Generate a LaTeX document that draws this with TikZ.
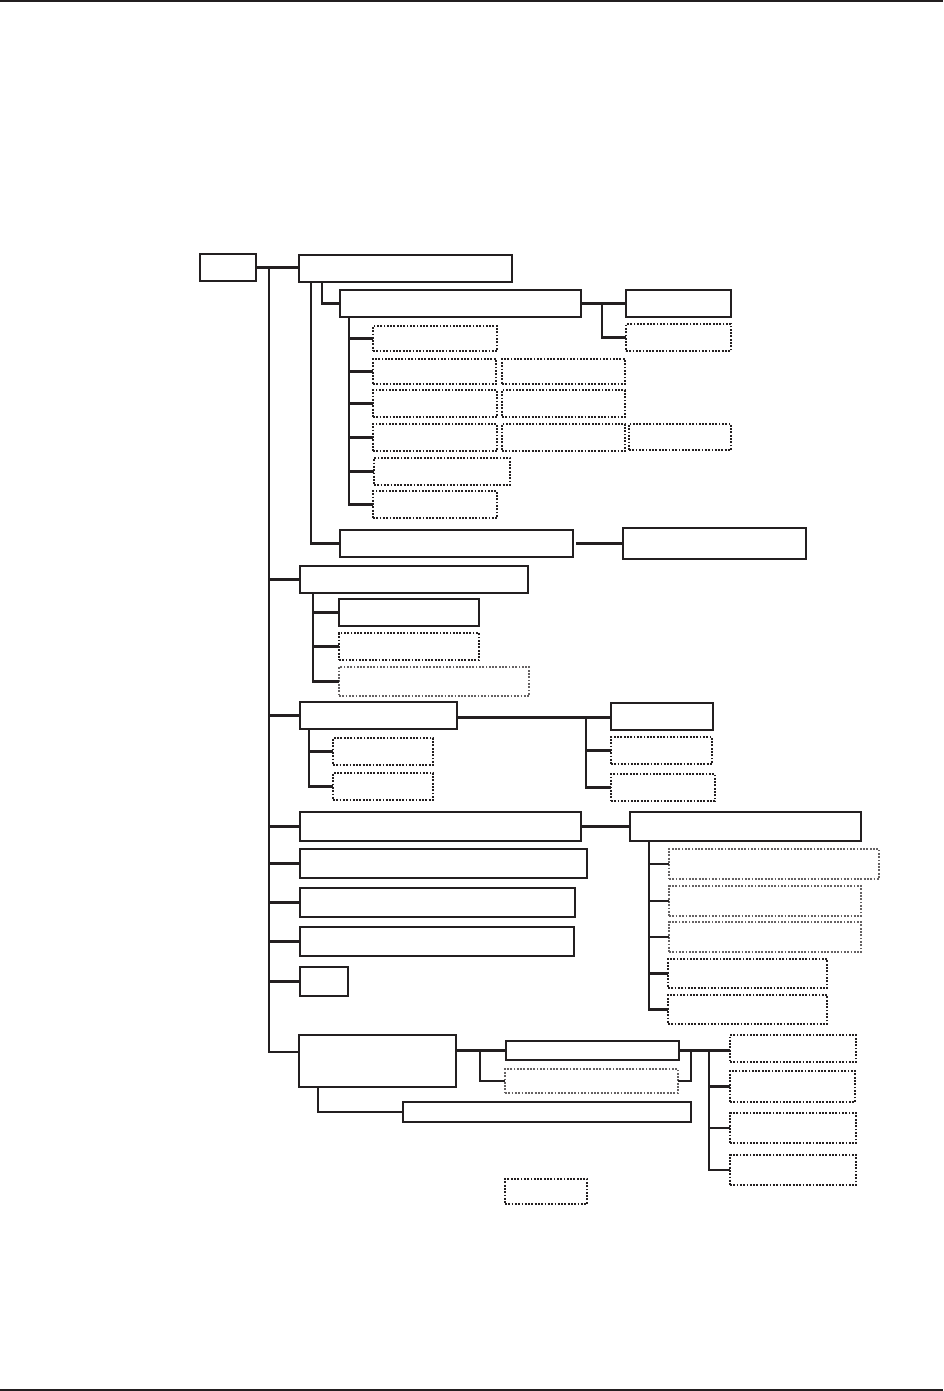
\documentclass[tikz,border=0pt]{standalone}
\usepackage{tikz}
\usetikzlibrary{positioning}
\definecolor{ink}{HTML}{231F20}

\begin{document}
\begin{tikzpicture}[
        x=1pt, y=-1pt,
        box/.style={rectangle, draw=ink, line width=2.1pt, inner sep=0pt, outer sep=0pt, anchor=north west},
        dotbox/.style={box, line width=1.8pt, dash pattern=on 1.8pt off 1.5pt},
        greybox/.style={dotbox, draw=ink!70},
        sz/.style 2 args={minimum width=#1pt, minimum height=#2pt},
        link/.style={draw=ink, line width=2.1pt}
    ]
        \useasboundingbox (0,0) rectangle (943,1391);

        % Page rules
        \fill[ink] (0,0) rectangle (943,2.5);
        \fill[ink] (0,1388.5) rectangle (943,1391);

        % Root and first branch
        \node[box, sz={56}{27}] (root) at (200,254) {};
        \node[box, sz={213}{27}] (lvA) at (299,255) {};
        \node[box, sz={241}{27}] (lvB1) at (340,290) {};
        \node[box, sz={105}{27}] (lvC1) at (626,290) {};
        \node[dotbox, sz={105}{27}] (lvC2) at (626,324) {};

        % Grid below B1
        \node[dotbox, sz={124}{25}] (lvD1) at (373,326) {};
        \node[dotbox, sz={123}{25}] (lvD2) at (373,359) {};
        \node[dotbox, sz={123}{25}] (lvD2b) at (502,359) {};
        \node[dotbox, sz={124}{27}] (lvD3) at (373,390) {};
        \node[dotbox, sz={123}{27}] (lvD3b) at (502,390) {};
        \node[dotbox, sz={124}{27}] (lvD4) at (373,424) {};
        \node[dotbox, sz={123}{27}] (lvD4b) at (502,424) {};
        \node[dotbox, sz={102}{26}] (lvD4c) at (629,424) {};
        \node[dotbox, sz={136}{27}] (lvD5) at (374,458) {};
        \node[dotbox, sz={124}{27}] (lvD6) at (373,491) {};

        \node[box, sz={233}{27}] (lvB2) at (340,530) {};
        \node[box, sz={183}{31}] (lvC3) at (623,528) {};

        % Second branch
        \node[box, sz={228}{27}] (lvE) at (300,566) {};
        \node[box, sz={140}{27}] (lvE1) at (339,599) {};
        \node[dotbox, sz={140}{27}] (lvE2) at (339,633) {};
        \node[greybox, sz={190}{29}] (lvE3) at (339,667) {};

        % Third branch
        \node[box, sz={157}{27}] (lvF) at (300,702) {};
        \node[dotbox, sz={100}{27}] (lvF1) at (333,738) {};
        \node[dotbox, sz={100}{27}] (lvF2) at (333,773) {};
        \node[box, sz={102}{27}] (lvG1) at (611,703) {};
        \node[dotbox, sz={101}{27}] (lvG2) at (611,737) {};
        \node[dotbox, sz={104}{27}] (lvG3) at (611,774) {};

        % Long boxes
        \node[box, sz={281}{29}] (lvHa) at (300,812) {};
        \node[box, sz={287}{29}] (lvHb) at (300,849) {};
        \node[box, sz={275}{29}] (lvHc) at (300,888) {};
        \node[box, sz={274}{29}] (lvHd) at (300,927) {};
        \node[box, sz={48}{29}] (lvHe) at (300,967) {};
        \node[box, sz={231}{29}] (lvI) at (630,812) {};
        \node[greybox, sz={210}{30}] (lvI1) at (669,849) {};
        \node[greybox, sz={192}{30}] (lvI2) at (669,886) {};
        \node[greybox, sz={192}{30}] (lvI3) at (669,922) {};
        \node[dotbox, sz={159}{29}] (lvI4) at (668,959) {};
        \node[dotbox, sz={159}{29}] (lvI5) at (668,995) {};

        % Last branch
        \node[box, sz={157}{52}] (lvJ) at (299,1035) {};
        \node[box, sz={173}{19}] (lvK1) at (506,1041) {};
        \node[greybox, sz={173}{24}] (lvK2) at (505,1069) {};
        \node[box, sz={288}{20}] (lvM) at (403,1102) {};
        \node[dotbox, sz={126}{27}] (lvL1) at (730,1035) {};
        \node[dotbox, sz={125}{31}] (lvL2) at (730,1071) {};
        \node[dotbox, sz={126}{30}] (lvL3) at (730,1113) {};
        \node[dotbox, sz={126}{30}] (lvL4) at (730,1155) {};
        \node[dotbox, sz={82}{25}] (lvN) at (505,1179) {};

        % Trunk
        \coordinate (trunk) at ([xshift=13pt]root.east);
        \draw[link] (root.east) -- (root.east -| lvA.west);
        \draw[link] (trunk) |- ([yshift=9pt]lvJ.west);
        \foreach \n in {lvE, lvF, lvHa, lvHb, lvHc, lvHd, lvHe}
            \draw[link] (\n.west) -- (\n.west -| trunk);

        % Under A
        \draw[link] ([xshift=12pt]lvA.south west) |- (lvB2.west);
        \draw[link] ([xshift=23pt]lvA.south west) |- (lvB1.west);
        \draw[link] (lvB1.east) -- (lvC1.west);
        \draw[link] ([xshift=21pt]lvB1.east) |- (lvC2.west);
        \draw[link] ([xshift=9pt]lvB1.south west) |- (lvD6.west);
        \foreach \n in {lvD1, lvD2, lvD3, lvD4, lvD5}
            \draw[link] (\n.west) -- (\n.west -| lvD6.west) -- ++(-24,0);
        \draw[link, shorten <=3pt] (lvB2.east) -- (lvC3.west);

        % Under E
        \draw[link] ([xshift=13pt]lvE.south west) |- (lvE3.west);
        \foreach \n in {lvE1, lvE2}
            \draw[link] (\n.west) -- ++(-26,0);

        % Under F
        \draw[link] ([yshift=-2pt]lvF.east) -- ([yshift=-2pt]lvF.east -| lvG1.west);
        \draw[link] ([xshift=129pt, yshift=-2pt]lvF.east) |- (lvG3.west);
        \draw[link] (lvG2.west) -- ++(-25,0);
        \draw[link] ([xshift=9pt]lvF.south west) |- (lvF2.west);
        \draw[link] (lvF1.west) -- ++(-24,0);

        % Under H and I
        \draw[link] (lvHa.east) -- (lvI.west);
        \draw[link] ([xshift=19pt]lvI.south west) |- (lvI5.west);
        \foreach \n in {lvI1, lvI2, lvI3, lvI4}
            \draw[link] (\n.west) -- (\n.west -| lvI5.west) -- ++(-19,0);

        % Under J
        \draw[link] (lvK1.west -| lvJ.east) -- (lvK1.west);
        \draw[link] ([xshift=-26pt]lvK1.west) |- (lvK2.west);
        \draw[link] (lvK1.east) -- (lvK1.east -| lvL1.west);
        \draw[link] ([xshift=12pt]lvK1.east) |- (lvK2.east);
        \draw[link] ([xshift=30pt]lvK1.east) |- (lvL4.west);
        \foreach \n in {lvL2, lvL3}
            \draw[link] (\n.west) -- ++(-21,0);
        \draw[link] ([xshift=19pt]lvJ.south west) |- (lvM.west);
    \end{tikzpicture}
\end{document}
